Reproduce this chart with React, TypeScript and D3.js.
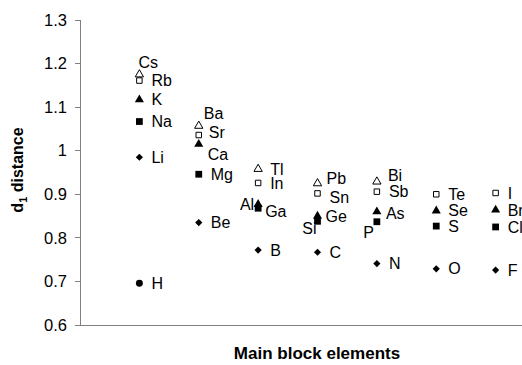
import React from "react";
import * as d3 from "d3";

const W = 522;
const H = 365;

// Main-group columns (1..7) and y ticks
const groupNumbers = [1, 2, 3, 4, 5, 6, 7];
const yTicks = [0.6, 0.7, 0.8, 0.9, 1, 1.1, 1.2, 1.3];
const yTickLabels = ["0.6", "0.7", "0.8", "0.9", "1", "1.1", "1.2", "1.3"];

// d1 distances by period, listed by main group
const period1Elements = ["H"];
const period1Values = [0.696];
const period2Elements = ["Li", "Be", "B", "C", "N", "O", "F"];
const period2Values = [0.985, 0.835, 0.772, 0.767, 0.741, 0.729, 0.726];
const period3Elements = ["Na", "Mg", "Al", "Si", "P", "S", "Cl"];
const period3Values = [1.067, 0.946, 0.868, 0.838, 0.837, 0.827, 0.825];
const period4Elements = ["K", "Ca", "Ga", "Ge", "As", "Se", "Br"];
const period4Values = [1.117, 1.015, 0.877, 0.85, 0.86, 0.862, 0.864];
const period5Elements = ["Rb", "Sr", "In", "Sn", "Sb", "Te", "I"];
const period5Values = [1.161, 1.036, 0.926, 0.902, 0.906, 0.9, 0.903];
const period6Elements = ["Cs", "Ba", "Tl", "Pb", "Bi"];
const period6Values = [1.175, 1.057, 0.958, 0.925, 0.929];

type Mark = { kind: "circle" | "diamond" | "square" | "triangle"; filled: boolean };

const periods: { elements: string[]; values: number[]; mark: Mark }[] = [
  { elements: period1Elements, values: period1Values, mark: { kind: "circle", filled: true } },
  { elements: period2Elements, values: period2Values, mark: { kind: "diamond", filled: true } },
  { elements: period3Elements, values: period3Values, mark: { kind: "square", filled: true } },
  { elements: period4Elements, values: period4Values, mark: { kind: "triangle", filled: true } },
  { elements: period5Elements, values: period5Values, mark: { kind: "square", filled: false } },
  { elements: period6Elements, values: period6Values, mark: { kind: "triangle", filled: false } },
];

// Label placement around each marker: [dx, dy, anchor]
const labelPlacement: Record<string, [number, number, string]> = {
  Cs: [-1, -12, "start"],
  Ba: [5, -12, "start"],
  Sr: [10, -3, "start"],
  Ca: [9, 10, "start"],
  Al: [-4, -4, "end"],
  Ga: [7, 7, "start"],
  Pb: [9, -5, "start"],
  Sn: [12, 4, "start"],
  Ge: [8, 0, "start"],
  Si: [-1, 7, "end"],
  P: [-3, 11, "end"],
  As: [9, 2, "start"],
  Bi: [11, -6, "start"],
};

const font = "'Liberation Sans', Arial, Helvetica, sans-serif";

const symbolPath = (m: Mark) => {
  if (m.kind === "circle") return d3.symbol(d3.symbolCircle, 38)()!;
  if (m.kind === "diamond") return d3.symbol(d3.symbolSquare, 26)()!;
  if (m.kind === "square") return d3.symbol(d3.symbolSquare, m.filled ? 46 : 30)()!;
  return d3.symbol(d3.symbolTriangle, m.filled ? 36 : 30)()!;
};

export default function App() {
  const x = d3.scaleLinear().domain([0, 8]).range([80, 555]);
  const y = d3.scaleLinear().domain([0.6, 1.3]).range([325, 20]);

  return (
    <div style={{ position: "fixed", left: 0, top: 0 }}>
      <svg width={W} height={H} style={{ display: "block", background: "#fff" }} fontFamily={font}>
        {/* axes */}
        <line x1={x(0)} x2={x(0)} y1={y(1.3)} y2={y(0.6)} stroke="#808080" strokeWidth={1} shapeRendering="crispEdges" />
        <line x1={x(0)} x2={x(8)} y1={y(0.6)} y2={y(0.6)} stroke="#808080" strokeWidth={1} shapeRendering="crispEdges" />
        {yTicks.map((t, i) => (
          <g key={t}>
            <line x1={x(0) - 5} x2={x(0)} y1={y(t)} y2={y(t)} stroke="#808080" shapeRendering="crispEdges" />
            <text x={67} y={y(t)} dy="0.35em" textAnchor="end" fontSize={16.5} fill="#000">
              {yTickLabels[i]}
            </text>
          </g>
        ))}
        <text transform={`translate(23,${170}) rotate(-90)`} textAnchor="middle" fontSize={16} fontWeight="bold">
          d<tspan fontSize={11} dy={4}>1</tspan>
          <tspan dy={-4}> distance</tspan>
        </text>
        <text x={317} y={359} textAnchor="middle" fontSize={17} fontWeight="bold">
          Main block elements
        </text>

        {/* markers and element labels */}
        {periods.map((p, pi) =>
          p.elements.map((el, i) => {
            const cx = x(groupNumbers[i]);
            const cy = y(p.values[i]);
            const rot = p.mark.kind === "diamond" ? " rotate(45)" : "";
            const pl = labelPlacement[el] || [12, 0, "start"];
            return (
              <g key={`${pi}-${el}`}>
                <path
                  d={symbolPath(p.mark)}
                  transform={`translate(${cx},${cy})${rot}`}
                  fill={p.mark.filled ? "#000" : "#fff"}
                  stroke="#000"
                  strokeWidth={p.mark.filled ? 0 : 1}
                />
                <text x={cx + pl[0]} y={cy + pl[1]} dy="0.35em" textAnchor={pl[2]} fontSize={16} fill="#000">
                  {el}
                </text>
              </g>
            );
          })
        )}
      </svg>
    </div>
  );
}
